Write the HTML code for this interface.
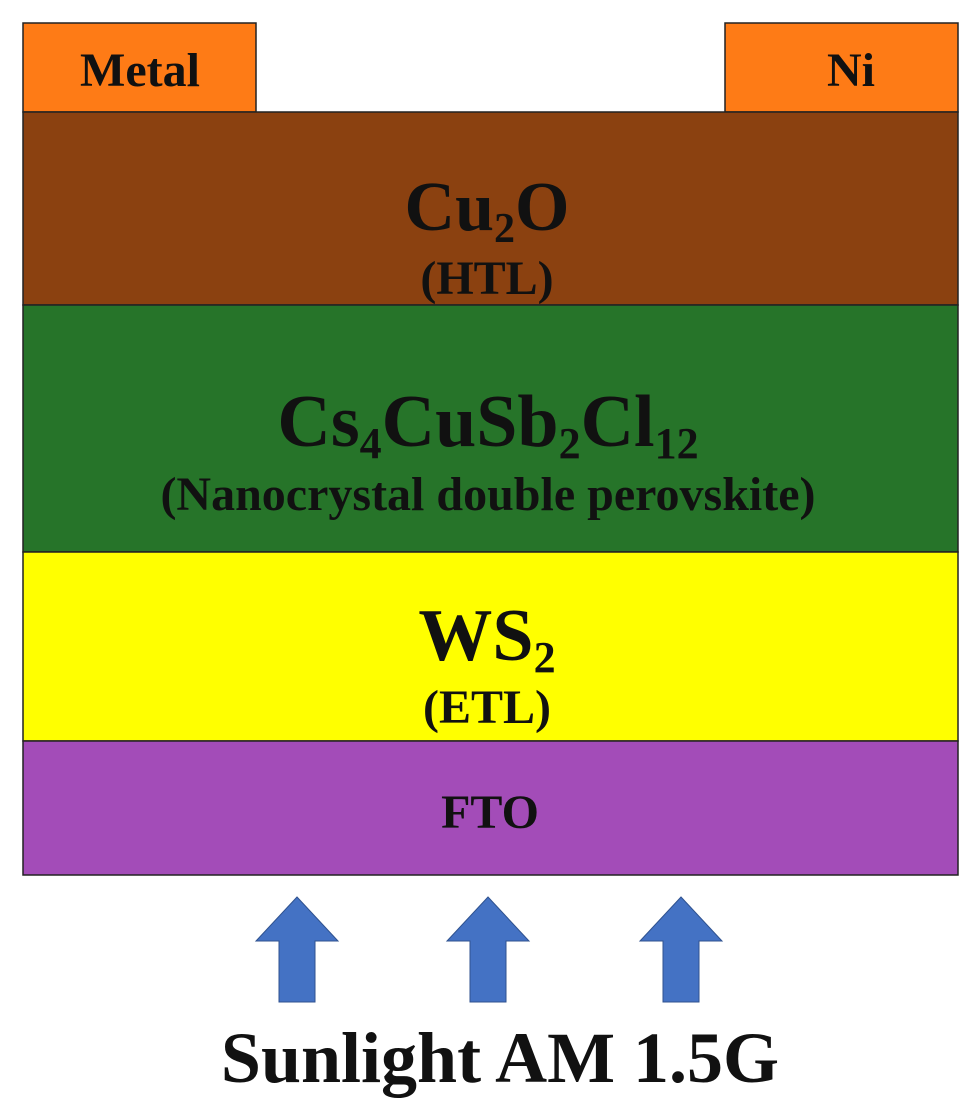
<!DOCTYPE html>
<html><head><meta charset="utf-8"><style>
html,body{margin:0;padding:0;background:#fff;}
svg{display:block;}
text{font-family:"Liberation Serif",serif;font-weight:bold;fill:#111;}
</style></head><body>
<svg width="980" height="1108" viewBox="0 0 980 1108">
<rect x="23" y="23" width="233" height="89" fill="#fe7b16" stroke="#222" stroke-width="1.5"/>
<rect x="725" y="23" width="233" height="89" fill="#fe7b16" stroke="#222" stroke-width="1.5"/>
<rect x="23" y="112" width="935" height="193" fill="#8b4110" stroke="#222" stroke-width="1.5"/>
<rect x="23" y="305" width="935" height="247" fill="#267429" stroke="#222" stroke-width="1.5"/>
<rect x="23" y="552" width="935" height="189" fill="#ffff00" stroke="#222" stroke-width="1.5"/>
<rect x="23" y="741" width="935" height="134" fill="#a34cb8" stroke="#222" stroke-width="1.5"/>
<text x="140" y="86" font-size="48" text-anchor="middle">Metal</text>
<text x="851" y="86" font-size="48" text-anchor="middle">Ni</text>
<text x="487" y="230" font-size="70" text-anchor="middle">Cu<tspan font-size="42" dy="12">2</tspan><tspan dy="-12">O</tspan></text>
<text x="487" y="294" font-size="48" text-anchor="middle">(HTL)</text>
<text x="488" y="446" font-size="74" text-anchor="middle">Cs<tspan font-size="44" dy="12">4</tspan><tspan dy="-12">CuSb</tspan><tspan font-size="44" dy="12">2</tspan><tspan dy="-12">Cl</tspan><tspan font-size="44" dy="12">12</tspan></text>
<text x="488" y="510" font-size="48" text-anchor="middle">(Nanocrystal double perovskite)</text>
<text x="487" y="660" font-size="74" text-anchor="middle">WS<tspan font-size="44" dy="12">2</tspan></text>
<text x="487" y="723" font-size="48" text-anchor="middle">(ETL)</text>
<text x="490" y="828" font-size="48" text-anchor="middle">FTO</text>
<g fill="#4472c4" stroke="#2f528f" stroke-width="1">
<polygon points="297,897 338,941 315,941 315,1002 279,1002 279,941 256,941"/>
<polygon points="488,897 529,941 506,941 506,1002 470,1002 470,941 447,941"/>
<polygon points="681,897 722,941 699,941 699,1002 663,1002 663,941 640,941"/>
</g>
<text x="500" y="1082" font-size="72" text-anchor="middle">Sunlight AM 1.5G</text>
</svg>
</body></html>
